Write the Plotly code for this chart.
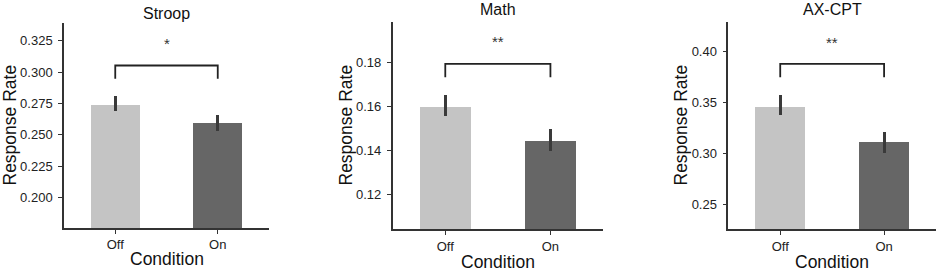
import plotly.graph_objects as go

# ---- data ----
conditions = ["Off", "On"]
panel_titles = ["Stroop", "Math", "AX-CPT"]
means = [
    [0.274, 0.2596],
    [0.160, 0.1447],
    [0.3457, 0.3114],
]
err_upper = [
    [0.2806, 0.2657],
    [0.1653, 0.1497],
    [0.3572, 0.3213],
]
err_lower = [
    [0.2691, 0.2532],
    [0.1558, 0.1400],
    [0.3372, 0.3003],
]
sig_labels = ["*", "**", "**"]
bracket_top = [0.3052, 0.1794, 0.3879]
bracket_leg = [0.2946, 0.1734, 0.3748]
star_y = [0.3230, 0.1895, 0.4095]
y_ranges = [[0.176, 0.339], [0.1043, 0.1986], [0.2251, 0.4295]]
y_ticks = [
    [0.200, 0.225, 0.250, 0.275, 0.300, 0.325],
    [0.12, 0.14, 0.16, 0.18],
    [0.25, 0.30, 0.35, 0.40],
]
y_tickformat = [".3f", ".2f", ".2f"]

bar_colors = ["#c4c4c4", "#666666"]
err_color = "#3a3a3a"
axis_color = "#333333"

W, H = 941, 271
x_px = [(64, 269), (392.7, 603), (728.3, 936)]
y_px = [(23, 228), (21.7, 229.3), (21.7, 229.3)]
ytitle_x = [9, 345, 680]
xtitle_y = [259, 262, 262]
title_y = [13, 10, 10]

fig = go.Figure()
font_family = "Liberation Sans, Arial, sans-serif"

for i in range(3):
    xa = "x" if i == 0 else f"x{i+1}"
    ya = "y" if i == 0 else f"y{i+1}"
    xs = list(range(len(conditions)))
    fig.add_trace(go.Bar(
        x=xs, y=means[i], width=0.48,
        marker=dict(color=bar_colors, line=dict(width=0)),
        error_y=dict(
            type="data", symmetric=False,
            array=[u - m for u, m in zip(err_upper[i], means[i])],
            arrayminus=[m - l for l, m in zip(err_lower[i], means[i])],
            color=err_color, thickness=3, width=0,
        ),
        xaxis=xa, yaxis=ya, showlegend=False, hoverinfo="skip",
    ))
    # significance bracket
    fig.add_trace(go.Scatter(
        x=[xs[0], xs[0], xs[1], xs[1]],
        y=[bracket_leg[i], bracket_top[i], bracket_top[i], bracket_leg[i]],
        mode="lines", line=dict(color="#222222", width=1.8),
        xaxis=xa, yaxis=ya, showlegend=False, hoverinfo="skip",
    ))
    fig.add_annotation(
        x=(xs[0] + xs[1]) / 2, y=star_y[i], xref=xa, yref=ya,
        text=sig_labels[i], showarrow=False,
        font=dict(size=15, color="#333333", family=font_family),
    )
    x0, x1 = x_px[i]
    yt, yb = y_px[i]
    # panel title
    fig.add_annotation(
        x=((x0 + x1) / 2) / W, y=1 - title_y[i] / H, xref="paper", yref="paper",
        text=panel_titles[i], showarrow=False,
        font=dict(size=16, color="#111111", family=font_family),
        xanchor="center", yanchor="middle",
    )
    # axis titles
    fig.add_annotation(
        x=((x0 + x1) / 2) / W, y=1 - xtitle_y[i] / H, xref="paper", yref="paper",
        text="Condition", showarrow=False,
        font=dict(size=17.5, color="#111111", family=font_family),
        xanchor="center", yanchor="middle",
    )
    fig.add_annotation(
        x=ytitle_x[i] / W, y=1 - ((yt + yb) / 2) / H, xref="paper", yref="paper",
        text="Response Rate", showarrow=False, textangle=-90,
        font=dict(size=17.5, color="#111111", family=font_family),
        xanchor="center", yanchor="middle",
    )
    axis_common = dict(
        showline=True, linecolor=axis_color, linewidth=1.5,
        ticks="outside", ticklen=4, tickwidth=1.3, tickcolor=axis_color,
        showgrid=False, zeroline=False, automargin=False,
        tickfont=dict(size=13, color="#222222", family=font_family),
    )
    fig.update_layout(**{
        ("xaxis" if i == 0 else f"xaxis{i+1}"): dict(
            domain=[x0 / W, x1 / W], range=[-0.5, 1.5], anchor=ya,
            tickvals=xs, ticktext=conditions, ticklabelstandoff=0,
            **axis_common,
        ),
        ("yaxis" if i == 0 else f"yaxis{i+1}"): dict(
            domain=[1 - yb / H, 1 - yt / H], range=y_ranges[i], anchor=xa,
            tickvals=y_ticks[i], tickformat=y_tickformat[i], ticklabelstandoff=3,
            **axis_common,
        ),
    })

fig.update_layout(
    width=W, height=H, margin=dict(l=0, r=0, t=0, b=0),
    paper_bgcolor="white", plot_bgcolor="white",
    bargap=0,
)
fig.write_html(
    "out.html",
    config={"displayModeBar": False},
    post_script="document.body.style.margin='0';document.body.style.overflow='hidden';",
)
